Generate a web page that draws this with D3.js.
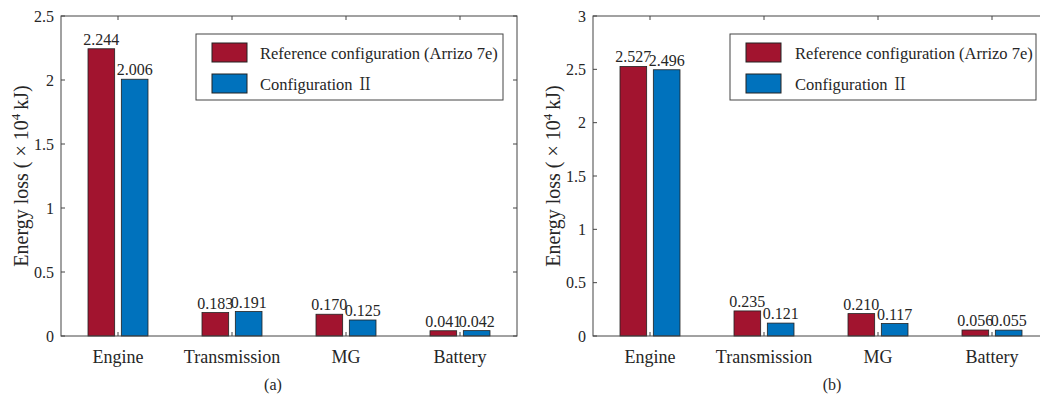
<!DOCTYPE html>
<html>
<head>
<meta charset="utf-8">
<script src="https://cdn.jsdelivr.net/npm/d3@7"></script>
<style>
  body { margin: 0; background: #fff; }
  text { font-family: "Liberation Serif", "Times New Roman", "Noto Serif CJK SC", "Noto Sans CJK SC", serif; fill: #262626; }
</style>
</head>
<body>
<div id="chart"></div>
<script>
var categories = ["Engine", "Transmission", "MG", "Battery"];
var seriesNames = ["Reference configuration (Arrizo 7e)", "Configuration \u2161"];
var colors = ["#A2142F", "#0072BD"];

// panel (a)
var refA = [2.244, 0.183, 0.170, 0.041];
var cfgA = [2.006, 0.191, 0.125, 0.042];
var yTicksA = [0, 0.5, 1, 1.5, 2, 2.5];

// panel (b)
var refB = [2.527, 0.235, 0.210, 0.056];
var cfgB = [2.496, 0.121, 0.117, 0.055];
var yTicksB = [0, 0.5, 1, 1.5, 2, 2.5, 3];

var svg = d3.select('#chart').append('svg')
    .attr("width", 1040)
    .attr("height", 401);

var axisColor = "#444";
var fmt = d3.format(".3f");

function drawPanel(opts) {
    var w = 456, h = 320;
    var g = svg.append("g")
        .attr("transform", "translate(" + opts.left + "," + opts.top + ")");

    var x = d3.scaleBand().domain(categories).range([0, w]).padding(0);
    var xSub = d3.scaleBand().domain([0, 1]).range([-30, 30]).paddingInner(0.2);
    var y = d3.scaleLinear().domain([0, opts.yMax]).range([h, 0]);

    var rows = [];
    categories.forEach(function(c, i) {
        opts.series.forEach(function(s, j) {
            rows.push({ cat: c, s: j, v: s[i] });
        });
    });

    // bars
    g.selectAll("rect.bar").data(rows).enter().append("rect")
        .attr("class", "bar")
        .attr("x", function(d) { return x(d.cat) + x.bandwidth() / 2 + xSub(d.s); })
        .attr("y", function(d) { return y(d.v); })
        .attr("width", xSub.bandwidth())
        .attr("height", function(d) { return h - y(d.v); })
        .attr("fill", function(d) { return colors[d.s]; })
        .attr("stroke", "#222")
        .attr("stroke-width", 0.8);

    // value labels
    g.selectAll("text.val").data(rows).enter().append("text")
        .attr("class", "val")
        .attr("x", function(d) { return x(d.cat) + x.bandwidth() / 2 + xSub(d.s) + xSub.bandwidth() / 2; })
        .attr("y", function(d) { return y(d.v) - 4; })
        .attr("text-anchor", "middle")
        .style("font-size", "16px")
        .text(function(d) { return fmt(d.v); });

    // box
    g.append("rect")
        .attr("width", w).attr("height", h)
        .attr("fill", "none")
        .attr("stroke", axisColor)
        .attr("stroke-width", 1);

    // y ticks (left + right, inward)
    opts.yTicks.forEach(function(t) {
        g.append("line").attr("x1", 0).attr("x2", 4).attr("y1", y(t)).attr("y2", y(t))
            .attr("stroke", axisColor);
        g.append("line").attr("x1", w).attr("x2", w - 4).attr("y1", y(t)).attr("y2", y(t))
            .attr("stroke", axisColor);
        g.append("text")
            .attr("x", -7).attr("y", y(t))
            .attr("text-anchor", "end")
            .attr("dominant-baseline", "central")
            .style("font-size", "16px")
            .text(t);
    });

    // x ticks (top + bottom, inward)
    categories.forEach(function(c) {
        var cx = x(c) + x.bandwidth() / 2;
        g.append("line").attr("x1", cx).attr("x2", cx).attr("y1", 0).attr("y2", 4)
            .attr("stroke", axisColor);
        g.append("line").attr("x1", cx).attr("x2", cx).attr("y1", h).attr("y2", h - 4)
            .attr("stroke", axisColor);
        g.append("text")
            .attr("x", cx).attr("y", h + 27)
            .attr("text-anchor", "middle")
            .style("font-size", "18px")
            .text(c);
    });

    // y label
    var lab = g.append("text")
        .attr("transform", "translate(" + opts.labelX + "," + (h / 2) + ") rotate(-90)")
        .attr("text-anchor", "middle")
        .style("font-size", "20px");
    lab.append("tspan").text("Energy loss ( \u00d7 10");
    lab.append("tspan").attr("dy", -8).style("font-size", "13px").text("4");
    lab.append("tspan").attr("dy", 8).text("\u2009kJ)");

    // caption
    g.append("text")
        .attr("x", opts.captionX).attr("y", h + 54)
        .attr("text-anchor", "middle")
        .style("font-size", "16px")
        .text(opts.caption);

    // legend
    var lg = g.append("g").attr("transform", "translate(" + opts.legendX + ",18)");
    lg.append("rect")
        .attr("width", opts.legendW).attr("height", 66)
        .attr("fill", "#fff")
        .attr("stroke", axisColor);
    seriesNames.forEach(function(n, i) {
        lg.append("rect")
            .attr("x", 16).attr("y", 9 + i * 31)
            .attr("width", 35).attr("height", 19)
            .attr("fill", colors[i])
            .attr("stroke", "#222");
        lg.append("text")
            .attr("x", opts.legendTextX).attr("y", 19 + i * 31)
            .attr("dominant-baseline", "central")
            .style("font-size", "16.5px")
            .text(n);
    });
}

drawPanel({
    left: 61, top: 16, yMax: 2.5, yTicks: yTicksA,
    series: [refA, cfgA], labelX: -33, caption: "(a)", captionX: 212,
    legendX: 135, legendW: 307, legendTextX: 64
});

drawPanel({
    left: 593, top: 16, yMax: 3, yTicks: yTicksB,
    series: [refB, cfgB], labelX: -33, caption: "(b)", captionX: 239,
    legendX: 137, legendW: 306, legendTextX: 65
});
</script>
</body>
</html>
